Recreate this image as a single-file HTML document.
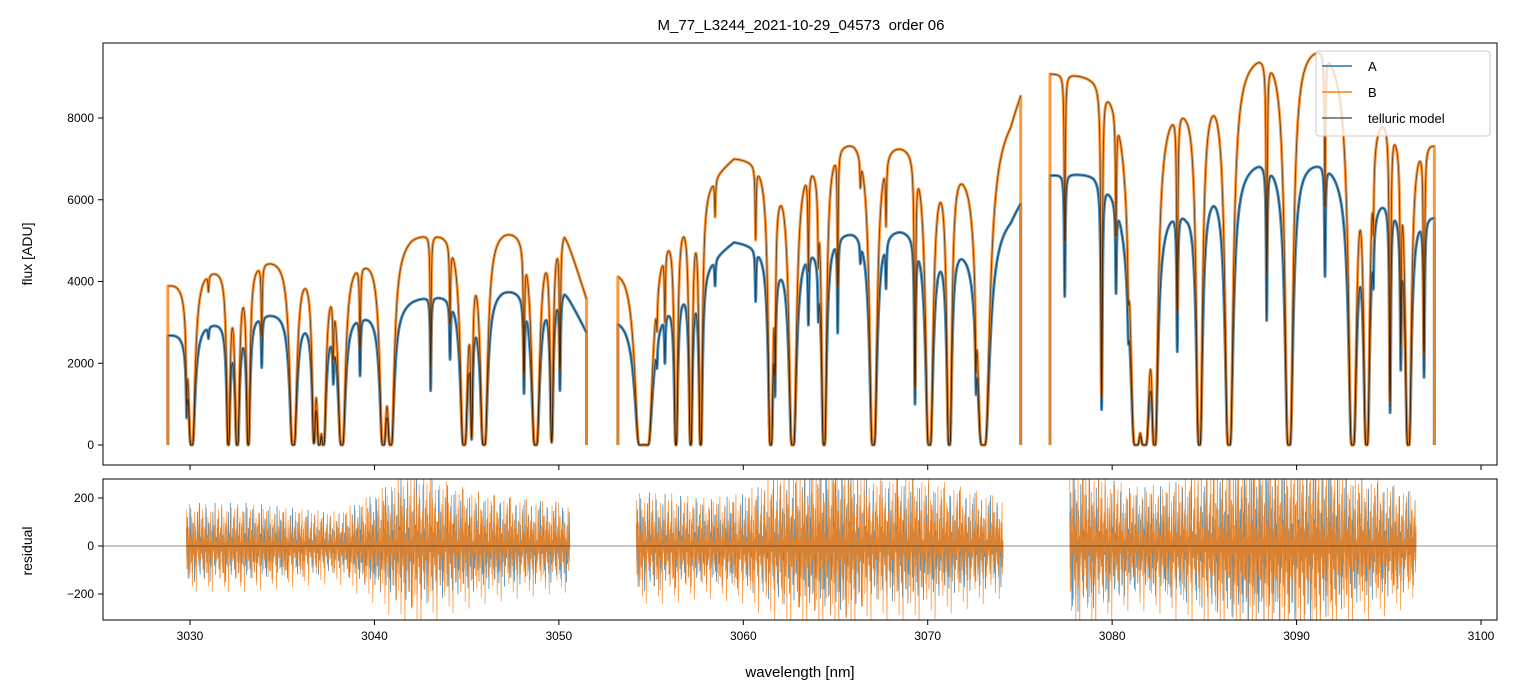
<!DOCTYPE html>
<html><head><meta charset="utf-8">
<style>
body{margin:0;background:#fff;}
svg{display:block;font-family:"Liberation Sans","DejaVu Sans",sans-serif;}
</style></head>
<body>
<svg id="chart" width="1517" height="696" viewBox="0 0 1517 696" xmlns="http://www.w3.org/2000/svg">
<defs>
<clipPath id="clipTop"><rect x="103" y="43" width="1394" height="422"/></clipPath>
<clipPath id="clipRes"><rect x="103" y="479" width="1394" height="141"/></clipPath>
</defs>
<rect width="1517" height="696" fill="#fff"/>
<text x="801" y="30" text-anchor="middle" font-size="15" style="white-space:pre">M_77_L3244_2021-10-29_04573  order 06</text>
<g id="topPlot" clip-path="url(#clipTop)"></g>
<g id="resPlot" clip-path="url(#clipRes)"></g>
<g id="axes"></g>
<text transform="translate(32,254) rotate(-90)" text-anchor="middle" font-size="14">flux [ADU]</text>
<text transform="translate(32,551) rotate(-90)" text-anchor="middle" font-size="14">residual</text>
<text x="800" y="677" text-anchor="middle" font-size="15">wavelength [nm]</text>
<g>
<rect x="1316" y="51" width="174" height="85" rx="3" fill="#fff" fill-opacity="0.8" stroke="#ccc"/>
<line x1="1322" y1="66" x2="1352" y2="66" stroke="#1f77b4" stroke-width="1.5"/>
<text x="1368" y="71" font-size="13">A</text>
<line x1="1322" y1="92" x2="1352" y2="92" stroke="#ff7f0e" stroke-width="1.5"/>
<text x="1368" y="97" font-size="13">B</text>
<line x1="1322" y1="118" x2="1352" y2="118" stroke="#000" stroke-opacity="0.6" stroke-width="1.5"/>
<text x="1368" y="123" font-size="13">telluric model</text>
</g>
</svg>
<script>
const segStart=[3028.8,3053.2,3076.63];
const segEnd=[3051.5,3075.04,3097.47];
const resStart=[3029.8,3054.2,3077.7];
const resEnd=[3050.6,3074.1,3096.5];
const contWl=[3028.8,3030.7,3035,3039.5,3042,3044.5,3047,3050.3,3051.5,3053.2,3056,3059.5,3062,3066,3068.5,3072,3074.5,3075.04,3076.6,3079,3084,3085.5,3088,3091.5,3094,3096.5,3097.5];
const contB=[4000,4400,4750,4800,5300,5400,5500,5450,3700,4600,5800,7200,7100,7750,7650,7450,8300,8900,9300,9300,8900,9300,9900,10100,8800,7800,7500];
const contA=[2750,3050,3400,3400,3700,3850,4000,3950,2850,3300,3850,5100,4900,5450,5500,5300,5800,6150,6750,6850,6150,6750,7200,7150,6550,5850,5700];
const lineWl=[3029.82,3030.09,3031.0,3032.08,3032.56,3033.16,3033.89,3035.60,3036.72,3037.01,3037.23,3037.77,3038.23,3039.22,3040.48,3040.88,3043.05,3044.10,3044.86,3045.27,3045.94,3048.11,3048.74,3049.61,3050.06,
3054.45,3054.75,3055.32,3055.75,3056.35,3057.15,3057.69,3058.47,3060.67,3061.49,3061.72,3062.68,3063.53,3064.07,3064.38,3065.12,3066.35,3067.05,3067.74,3069.31,3070.09,3071.17,3072.62,3073.01,
3077.43,3079.43,3080.21,3080.88,3081.3,3081.75,3082.3,3083.53,3084.73,3086.34,3088.38,3089.59,3091.54,3093.04,3093.80,3094.16,3095.07,3095.65,3096.06,3096.91];
const lineTau=[1.0,10,0.1,8,10,8,0.5,10,4,8,8,0.5,10,0.6,10,10,1.0,0.5,10,3,10,1.0,12,4,1,
15,15,0.25,0.45,8,8,8,0.15,0.3,10,1,12,0.45,0.3,10,0.6,0.1,12,0.25,1.6,12,10,0.7,15,
0.6,2,0.45,0.3,15,15,10,0.9,10,12,0.8,12,0.5,12,10,0.25,2,1,10,1.2];
const lineGam=[0.03,0.06,0.03,0.035,0.04,0.035,0.03,0.065,0.05,0.05,0.05,0.03,0.065,0.03,0.06,0.06,0.025,0.03,0.065,0.035,0.065,0.03,0.065,0.045,0.03,
0.08,0.08,0.03,0.03,0.035,0.035,0.035,0.03,0.03,0.045,0.03,0.06,0.03,0.03,0.045,0.025,0.03,0.06,0.03,0.03,0.06,0.045,0.03,0.09,
0.03,0.03,0.03,0.04,0.08,0.08,0.055,0.03,0.055,0.065,0.03,0.065,0.03,0.065,0.055,0.03,0.03,0.03,0.055,0.03];
const resWl=[3029.8,3033,3036,3038,3040,3042,3044,3046,3048,3050.6,3054.2,3056,3058,3060,3062,3064,3065.5,3067,3069,3071,3074.1,3077.7,3079,3081,3083,3085,3087,3089,3091,3093,3095,3096.5];
const resAmpB=[80,80,70,65,100,150,120,100,90,80,100,100,90,100,140,160,180,130,140,120,90,160,150,110,120,150,180,180,190,140,120,100];
const resAmpA=[75,75,65,55,90,130,105,90,80,75,95,90,80,90,120,135,150,110,120,100,85,140,130,100,105,130,155,155,160,120,105,90];
const xTicks=[3030,3040,3050,3060,3070,3080,3090,3100];
const yTicks=[0,2000,4000,6000,8000];
const resTicks=[-200,0,200];

const NS='http://www.w3.org/2000/svg';
const X=w=>190+(w-3030)*18.443;
const Y=v=>445-v*0.040875;
const YR=r=>546-r*0.24;
function interp(xs,ys,x){if(x<=xs[0])return ys[0];for(let i=1;i<xs.length;i++){if(x<=xs[i]){const t=(x-xs[i-1])/(xs[i]-xs[i-1]);return ys[i-1]+t*(ys[i]-ys[i-1]);}}return ys[ys.length-1];}
function trans(w){let t=0;for(let i=0;i<lineWl.length;i++){const d=(w-lineWl[i])/lineGam[i];t+=lineTau[i]/(1+d*d);}return Math.exp(-t);}
function mk(tag,attrs,parent){const e=document.createElementNS(NS,tag);for(const k in attrs)e.setAttribute(k,attrs[k]);parent.appendChild(e);return e;}
const topG=document.getElementById('topPlot');
const resG=document.getElementById('resPlot');
const axG=document.getElementById('axes');

function seriesPath(cont,s,edge){const a=segStart[s],b=segEnd[s];const pts=[];
 if(edge)pts.push(X(a).toFixed(2)+','+Y(0).toFixed(2));
 for(let w=a;w<=b+1e-9;w+=0.01){const v=interp(contWl,cont,w)*trans(w);pts.push(X(w).toFixed(2)+','+Y(v).toFixed(2));}
 if(edge)pts.push(X(b).toFixed(2)+','+Y(0).toFixed(2));
 return 'M'+pts.join(' L');}
for(let s=0;s<3;s++){
 const pa=mk('path',{d:seriesPath(contA,s,true),fill:'none',stroke:'#1f77b4','stroke-width':3,'stroke-opacity':0.8,'stroke-linejoin':'round'},topG);
 
 
 const pb=mk('path',{d:seriesPath(contB,s,true),fill:'none',stroke:'#ff7f0e','stroke-width':3,'stroke-opacity':0.8,'stroke-linejoin':'round'},topG);
 
 
}
for(let s=0;s<3;s++){
 for(const c of [contA,contB]){
  const pm=mk('path',{d:seriesPath(c,s,false),fill:'none',stroke:'#000','stroke-width':0.9,'stroke-opacity':0.55},topG);
  
  
 }
}
const patA=[1.0,-0.7,1.6,-1.3,0.4,-1.8,0.9,-0.3,2.1,-0.9,0.6,-1.5,1.3,-0.5,0.2,-2.0,1.1,-1.0,0.3,-0.6,1.9,-0.2,0.7,-1.1,2.4,-1.6,0.5,-0.4];
const patB=[-0.8,1.4,-0.4,1.9,-1.2,0.7,-1.7,1.0,-0.2,2.2,-1.4,0.5,-0.9,1.5,-2.1,0.3,1.2,-0.6,1.8,-1.1,0.8,-2.4,0.4,-0.3,1.1,-0.7,2.0,-1.3,0.2];
function resPath(amp,pat,s,off){const pts=[];let i=off;const a=resStart[s],b=resEnd[s];
 for(let w=a;w<=b;w+=0.03){const r=interp(resWl,amp,w)*pat[i%pat.length];pts.push(X(w).toFixed(2)+','+YR(r).toFixed(2));i++;}return 'M'+pts.join(' L');}
for(let s=0;s<3;s++){
 const ra=mk('path',{d:resPath(resAmpA,patA,s,0),fill:'none',stroke:'#1f77b4','stroke-width':0.8,'stroke-opacity':0.8},resG);
 
 
 const rb=mk('path',{d:resPath(resAmpB,patB,s,3),fill:'none',stroke:'#ff7f0e','stroke-width':0.8,'stroke-opacity':0.8},resG);
 
 
}
const zl=mk('line',{x1:103,x2:1497,y1:YR(0),y2:YR(0),stroke:'#000','stroke-width':0.8,'stroke-opacity':0.6},resG);



const f1=mk('rect',{x:103,y:43,width:1394,height:422,fill:'none',stroke:'#000','stroke-width':1},axG);


const f2=mk('rect',{x:103,y:479,width:1394,height:141,fill:'none',stroke:'#000','stroke-width':1},axG);


for(const t of xTicks){
 const x=X(t);
 const t1=mk('line',{x1:x,x2:x,y1:465,y2:470,stroke:'#000'},axG);
 
 
 const t2=mk('line',{x1:x,x2:x,y1:620,y2:625,stroke:'#000'},axG);
 
 
 const lb=mk('text',{x:x,y:640,'text-anchor':'middle','font-size':12},axG);
 lb.textContent=t;
 
 
}
for(const t of yTicks){
 const y=Y(t);
 const tl=mk('line',{x1:98,x2:103,y1:y,y2:y,stroke:'#000'},axG);
 
 
 const lb=mk('text',{x:94,y:y+4,'text-anchor':'end','font-size':12},axG);
 lb.textContent=t;
 
 
}
for(const t of resTicks){
 const y=YR(t);
 const tl=mk('line',{x1:98,x2:103,y1:y,y2:y,stroke:'#000'},axG);
 
 
 const lb=mk('text',{x:94,y:y+4,'text-anchor':'end','font-size':12},axG);
 lb.textContent=t<0?'\u2212'+Math.abs(t):t;
 
 
}
</script>
</body></html>
